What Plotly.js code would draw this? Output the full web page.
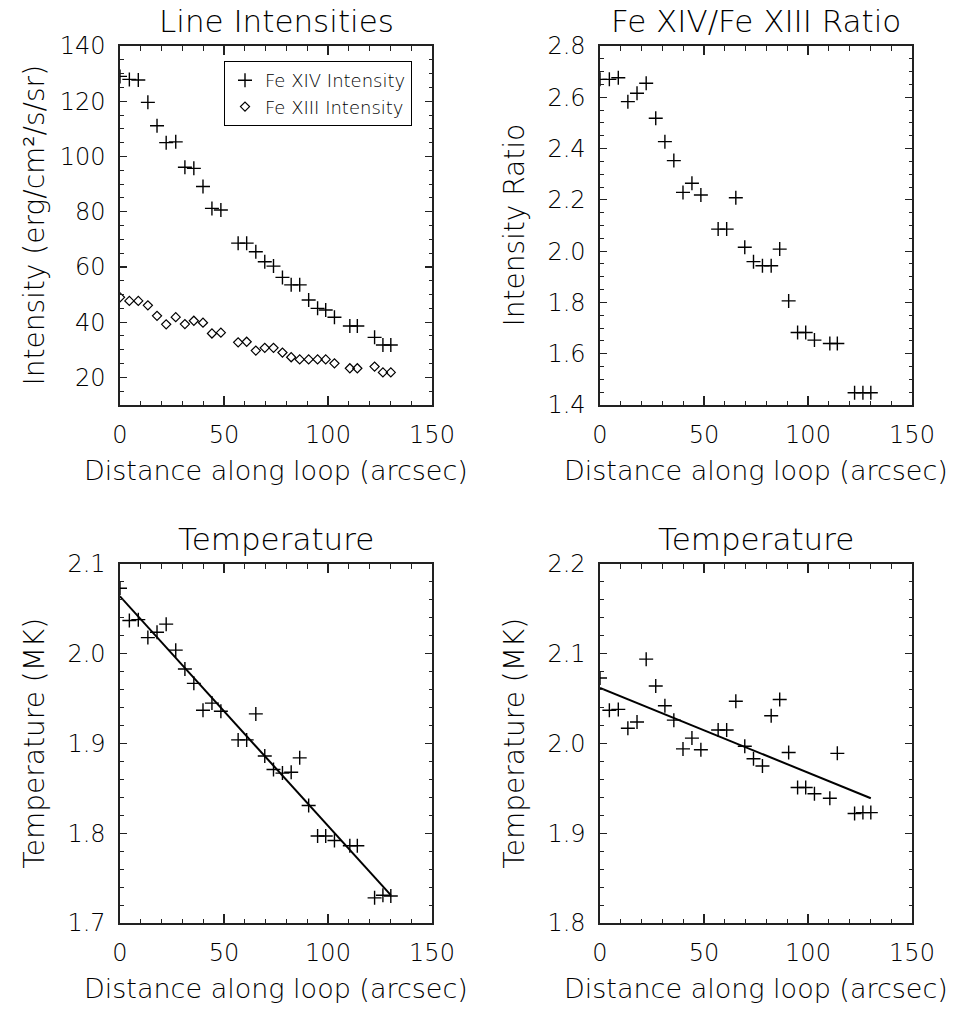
<!DOCTYPE html>
<html>
<head>
<meta charset="utf-8">
<script src="https://cdn.plot.ly/plotly-3.0.1.min.js"></script>
<style>html,body{margin:0;padding:0;background:#fff;}#chart{width:962px;height:1011px;}</style>
</head>
<body>
<div id="chart"></div>
<script>
// ---- data ----
const distance = [0, 4.5, 8.8, 13.4, 17.8, 22.2, 26.8, 31.2, 35.5, 39.9, 44.2, 48.5,
  56.8, 60.9, 65.3, 69.6, 73.8, 78.1, 82.3, 86.4, 90.7, 95.0, 98.9, 103.1,
  110.5, 114.1, 122.4, 126.4, 130.2];
const feXIV = [129, 127.9, 127.7, 119.6, 111.1, 105.0, 105.3, 96.1, 95.7, 89.1, 81.2, 80.6,
  68.6, 68.6, 65.5, 61.9, 60.3, 56.2, 53.5, 53.5, 48.0, 45.0, 44.4, 41.8,
  38.6, 38.6, 34.5, 31.7, 31.7];
const feXIII = [49.0, 47.7, 47.7, 46.1, 42.3, 39.2, 41.8, 39.3, 40.5, 39.8, 35.9, 36.2,
  32.7, 32.9, 29.7, 30.7, 30.7, 29.0, 27.3, 26.5, 26.5, 26.5, 26.5, 25.1,
  23.3, 23.3, 23.9, 21.8, 21.8];
const ratio = [2.67, 2.67, 2.676, 2.583, 2.616, 2.655, 2.518, 2.427, 2.353, 2.229, 2.265, 2.219,
  2.086, 2.086, 2.208, 2.015, 1.959, 1.943, 1.943, 2.008, 1.806, 1.683, 1.683, 1.653,
  1.640, 1.640, 1.448, 1.448, 1.448];
const temp1 = [2.073, 2.037, 2.038, 2.018, 2.024, 2.033, 2.004, 1.983, 1.967, 1.937, 1.945, 1.936,
  1.904, 1.904, 1.933, 1.886, 1.871, 1.867, 1.868, 1.884, 1.831, 1.797, 1.797, 1.792,
  1.786, 1.786, 1.728, 1.731, 1.730];
const temp2 = [2.073, 2.037, 2.038, 2.017, 2.024, 2.094, 2.064, 2.042, 2.026, 1.994, 2.006, 1.993,
  2.015, 2.015, 2.047, 1.997, 1.983, 1.975, 2.031, 2.049, 1.990, 1.951, 1.951, 1.944,
  1.939, 1.989, 1.922, 1.923, 1.923];
const fitX = [0, 130.2];
const fitTemp1 = [2.064, 1.731];
const fitTemp2 = [2.062, 1.939];
const xTickVals = [0, 50, 100, 150];
const titles = ['Line Intensities', 'Fe XIV/Fe XIII Ratio', 'Temperature', 'Temperature'];
const xTitle = 'Distance along loop (arcsec)';
const yTitles = ['Intensity (erg/cm\u00b2/s/sr)', 'Intensity Ratio', 'Temperature (MK)', 'Temperature (MK)'];
const legendNames = ['Fe XIV Intensity', 'Fe XIII Intensity'];

// ---- layout geometry ----
const W = 962, H = 1011;
const FONT = 'DejaVu Sans, sans-serif';
const WT = 200;
const colPx = [[120, 432], [600, 912]];
const rowPx = [[46, 405], [564, 923]];
const px2x = p => p / W;
const py2y = p => 1 - p / H;

const crossMarker = {symbol: 'cross-thin-open', size: 10, color: '#000', line: {color: '#000', width: 1.4}};
const diamondMarker = {symbol: 'diamond-open', size: 7, color: '#000', line: {color: '#000', width: 1.2}};

const traces = [
  {x: distance, y: feXIV, type: 'scatter', mode: 'markers', name: legendNames[0], marker: crossMarker, xaxis: 'x', yaxis: 'y'},
  {x: distance, y: feXIII, type: 'scatter', mode: 'markers', name: legendNames[1], marker: diamondMarker, xaxis: 'x', yaxis: 'y'},
  {x: distance, y: ratio, type: 'scatter', mode: 'markers', showlegend: false, marker: crossMarker, xaxis: 'x2', yaxis: 'y2'},
  {x: distance, y: temp1, type: 'scatter', mode: 'markers', showlegend: false, marker: crossMarker, xaxis: 'x3', yaxis: 'y3'},
  {x: fitX, y: fitTemp1, type: 'scatter', mode: 'lines', showlegend: false, line: {color: '#000', width: 2}, xaxis: 'x3', yaxis: 'y3'},
  {x: distance, y: temp2, type: 'scatter', mode: 'markers', showlegend: false, marker: crossMarker, xaxis: 'x4', yaxis: 'y4'},
  {x: fitX, y: fitTemp2, type: 'scatter', mode: 'lines', showlegend: false, line: {color: '#000', width: 2}, xaxis: 'x4', yaxis: 'y4'}
];

const tickFont = {family: FONT, size: 24, color: '#000', weight: WT};

function xAxis(col, anchor) {
  return {
    domain: [px2x(colPx[col][0]), px2x(colPx[col][1])], anchor: anchor,
    range: [0, 150], tickvals: xTickVals, ticks: 'inside', ticklen: 9, tickwidth: 1.2, tickcolor: '#222',
    minor: {dtick: 10, tick0: 0, ticks: 'inside', ticklen: 4.5, tickwidth: 1, tickcolor: '#222', showgrid: false},
    showline: true, linecolor: '#222', linewidth: 1.6, mirror: 'ticks', showgrid: false, zeroline: false,
    tickfont: tickFont, ticklabelstandoff: 8, fixedrange: true
  };
}
function yAxis(col, row, anchor, range, dtick, minorDtick, fmt) {
  return {
    domain: [py2y(rowPx[row][1]), py2y(rowPx[row][0])], anchor: anchor,
    range: range, dtick: dtick, tick0: 0, tickformat: fmt, ticks: 'inside', ticklen: 7, tickwidth: 1.2, tickcolor: '#222',
    minor: {dtick: minorDtick, tick0: 0, ticks: 'inside', ticklen: 3.5, tickwidth: 1, tickcolor: '#222', showgrid: false},
    showline: true, linecolor: '#222', linewidth: 1.6, mirror: 'ticks', showgrid: false, zeroline: false,
    tickfont: tickFont, ticklabelstandoff: 8, fixedrange: true
  };
}

const annotations = [];
const centers = [[0, 0], [1, 0], [0, 1], [1, 1]];
centers.forEach(([c, r], i) => {
  const cx = (colPx[c][0] + colPx[c][1]) / 2;
  const cy = (rowPx[r][0] + rowPx[r][1]) / 2;
  annotations.push({text: titles[i], xref: 'paper', yref: 'paper', x: px2x(cx), y: py2y(rowPx[r][0] - 25),
    xanchor: 'center', yanchor: 'middle', showarrow: false, font: {family: FONT, size: 31, color: '#000', weight: WT}});
  annotations.push({text: xTitle, xref: 'paper', yref: 'paper', x: px2x(cx), y: py2y(rowPx[r][1] + 65),
    xanchor: 'center', yanchor: 'middle', showarrow: false, font: {family: FONT, size: 27, color: '#000', weight: WT}});
  annotations.push({text: yTitles[i], xref: 'paper', yref: 'paper', x: px2x(colPx[c][0] - 86), y: py2y(cy),
    xanchor: 'center', yanchor: 'middle', textangle: -90, showarrow: false, font: {family: FONT, size: 28, color: '#000', weight: WT}});
});

const layout = {
  width: W, height: H, margin: {l: 0, r: 0, t: 0, b: 0},
  paper_bgcolor: '#fff', plot_bgcolor: '#fff',
  font: {family: FONT, color: '#000', weight: WT},
  showlegend: true,
  legend: {x: px2x(224), y: py2y(61), xanchor: 'left', yanchor: 'top', bgcolor: '#fff',
    bordercolor: '#000', borderwidth: 1, font: {family: FONT, size: 18, color: '#000', weight: WT},
    itemwidth: 30, tracegroupgap: 0},
  xaxis: xAxis(0, 'y'), yaxis: yAxis(0, 0, 'x', [10, 140], 20, 5, 'd'),
  xaxis2: xAxis(1, 'y2'), yaxis2: yAxis(1, 0, 'x2', [1.4, 2.8], 0.2, 0.05, '.1f'),
  xaxis3: xAxis(0, 'y3'), yaxis3: yAxis(0, 1, 'x3', [1.7, 2.1], 0.1, 0.02, '.1f'),
  xaxis4: xAxis(1, 'y4'), yaxis4: yAxis(1, 1, 'x4', [1.8, 2.2], 0.1, 0.02, '.1f'),
  annotations: annotations
};

Plotly.newPlot('chart', traces, layout, {staticPlot: true, displayModeBar: false});
</script>
</body>
</html>
